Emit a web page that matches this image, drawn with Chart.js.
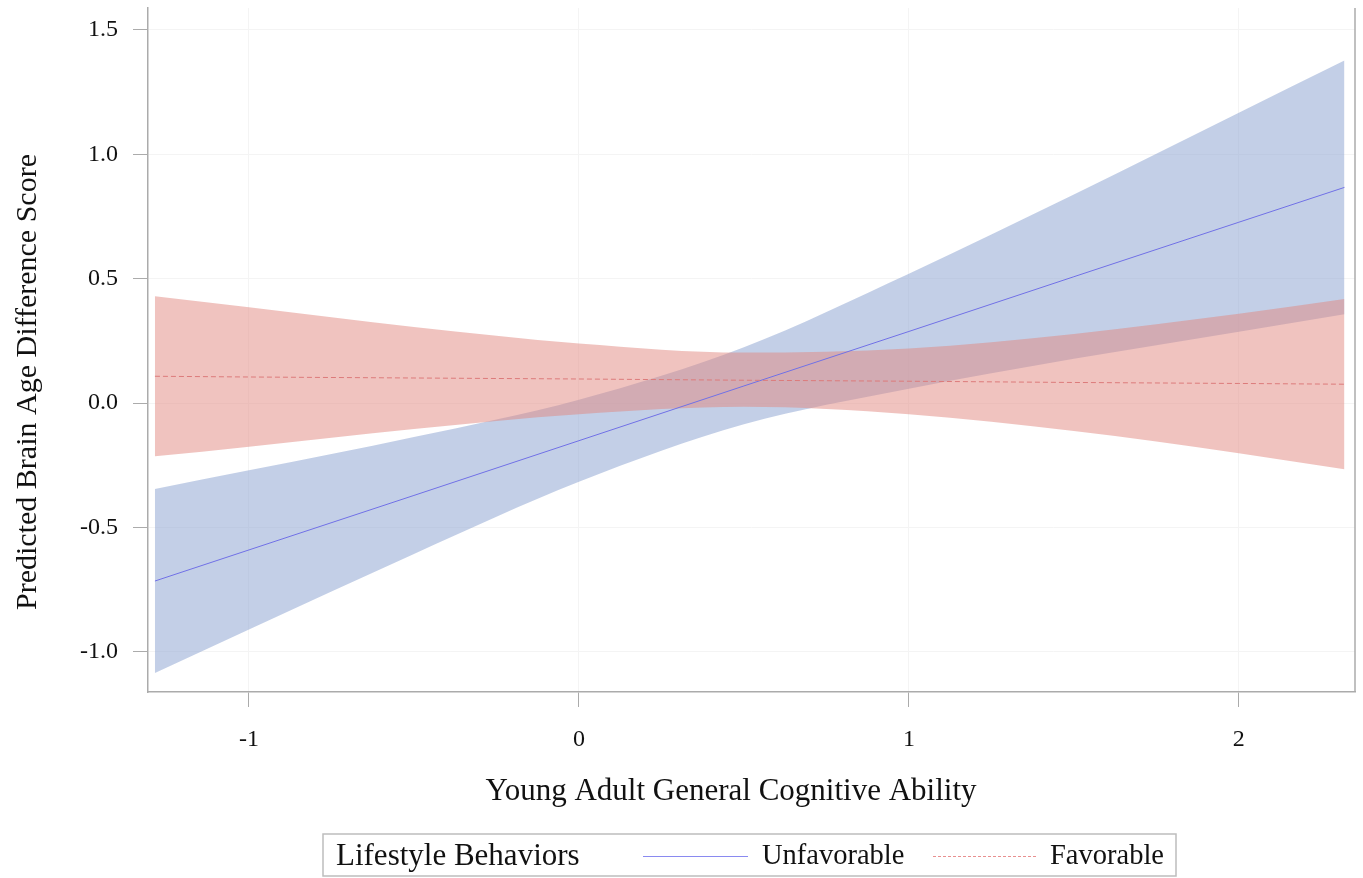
<!DOCTYPE html>
<html>
<head>
<meta charset="utf-8">
<script src="https://cdn.jsdelivr.net/npm/chart.js@4.4.1/dist/chart.umd.min.js"></script>
<style>
  html, body { margin: 0; padding: 0; background: #fff; }
  #wrap { width: 1363px; height: 878px; }
</style>
</head>
<body>
<div id="wrap"><canvas id="chart" width="1363" height="878"></canvas></div>
<script>
// valores
const xVals = [-1.285, -1, -0.5, 0, 0.5, 1, 1.5, 2, 2.32];

const unfavMean  = [-0.715, -0.590, -0.371, -0.151, 0.069, 0.288, 0.508, 0.727, 0.867];
const unfavUpper = [-0.345, -0.270, -0.136, 0.014, 0.225, 0.520, 0.838, 1.167, 1.377];
const unfavLower = [-1.085, -0.910, -0.606, -0.316, -0.085, 0.058, 0.178, 0.287, 0.357];

const favMean  = [0.108, 0.105, 0.101, 0.097, 0.092, 0.088, 0.083, 0.079, 0.076];
const favUpper = [0.430, 0.385, 0.306, 0.240, 0.203, 0.220, 0.278, 0.359, 0.418];
const favLower = [-0.214, -0.175, -0.104, -0.045, -0.015, -0.045, -0.112, -0.201, -0.266];

const xTicks = [-1, 0, 1, 2];
const yTicks = [-1.0, -0.5, 0.0, 0.5, 1.0, 1.5];

const serif = "'Liberation Serif', 'Times New Roman', serif";

function pts(ys) {
    return xVals.map(function (x, i) { return { x: x, y: ys[i] }; });
}

// títulos dos eixos, caixa da legenda e borda direita
const extras = {
    id: 'extras',
    afterDraw: function (chart) {
        const ctx = chart.ctx;
        const a = chart.chartArea;
        ctx.save();
        ctx.strokeStyle = '#ababab';
        ctx.lineWidth = 1.5;
        ctx.beginPath();
        ctx.moveTo(a.right, a.top);
        ctx.lineTo(a.right, a.bottom);
        ctx.stroke();

        ctx.fillStyle = '#111';
        ctx.textBaseline = 'middle';
        ctx.textAlign = 'center';
        ctx.font = '31px ' + serif;
        ctx.fillText('Young Adult General Cognitive Ability', 731, 792);

        ctx.save();
        ctx.translate(28, 382);
        ctx.rotate(-Math.PI / 2);
        ctx.font = '30px ' + serif;
        ctx.fillText('Predicted Brain Age Difference Score', 0, 0);
        ctx.restore();

        // legenda
        ctx.strokeStyle = '#bdbdbd';
        ctx.lineWidth = 1.5;
        ctx.strokeRect(323, 834, 853, 42);
        ctx.textAlign = 'left';
        ctx.font = '31px ' + serif;
        ctx.fillText('Lifestyle Behaviors', 336, 857);
        ctx.font = '28.5px ' + serif;
        ctx.fillText('Unfavorable', 762, 857);
        ctx.fillText('Favorable', 1050, 857);

        ctx.lineWidth = 1;
        ctx.strokeStyle = '#8a8af0';
        ctx.beginPath();
        ctx.moveTo(643, 856.5);
        ctx.lineTo(748, 856.5);
        ctx.stroke();

        ctx.strokeStyle = '#e89090';
        ctx.setLineDash([3, 2]);
        ctx.beginPath();
        ctx.moveTo(933, 856.5);
        ctx.lineTo(1038, 856.5);
        ctx.stroke();
        ctx.restore();
    }
};

const ctx = document.getElementById('chart').getContext('2d');
const chart = new Chart(ctx, {
    type: 'line',
    data: {
        datasets: [
            {
                label: 'Favorable',
                data: pts(favMean),
                borderColor: '#dc7a7a',
                borderWidth: 1,
                borderDash: [5, 3],
                pointRadius: 0,
                fill: false
            },
            {
                label: 'Unfavorable',
                data: pts(unfavMean),
                borderColor: '#7070e6',
                borderWidth: 1,
                pointRadius: 0,
                fill: false
            },
            {
                label: 'fav upper',
                data: pts(favUpper),
                borderWidth: 0,
                borderColor: 'rgba(0,0,0,0)',
                backgroundColor: 'rgba(225,135,127,0.5)',
                pointRadius: 0,
                cubicInterpolationMode: 'monotone',
                fill: '+1'
            },
            {
                label: 'fav lower',
                data: pts(favLower),
                borderWidth: 0,
                borderColor: 'rgba(0,0,0,0)',
                pointRadius: 0,
                cubicInterpolationMode: 'monotone',
                fill: false
            },
            {
                label: 'unfav upper',
                data: pts(unfavUpper),
                borderWidth: 0,
                borderColor: 'rgba(0,0,0,0)',
                backgroundColor: 'rgba(135,159,207,0.5)',
                pointRadius: 0,
                cubicInterpolationMode: 'monotone',
                fill: '+1'
            },
            {
                label: 'unfav lower',
                data: pts(unfavLower),
                borderWidth: 0,
                borderColor: 'rgba(0,0,0,0)',
                pointRadius: 0,
                cubicInterpolationMode: 'monotone',
                fill: false
            }
        ]
    },
    options: {
        responsive: false,
        animation: false,
        layout: { padding: { top: 8, right: 8, left: 0, bottom: 0 } },
        plugins: {
            legend: { display: false },
            tooltip: { enabled: false }
        },
        scales: {
            x: {
                type: 'linear',
                min: -1.306,
                max: 2.352,
                afterFit: function (s) {
                    s.height = 186;
                    s.paddingLeft = 0;
                    s.paddingRight = 0;
                },
                afterBuildTicks: function (s) {
                    s.ticks = xTicks.map(function (v) { return { value: v }; });
                },
                ticks: {
                    font: { family: serif, size: 24 },
                    color: '#111',
                    padding: 18,
                    callback: function (v) { return String(v); }
                },
                grid: {
                    color: '#f4f4f4',
                    tickColor: '#ababab',
                    tickLength: 15
                },
                border: { color: '#ababab', width: 1.5 }
            },
            y: {
                min: -1.161,
                max: 1.588,
                afterFit: function (s) {
                    s.width = 148;
                    s.paddingTop = 0;
                    s.paddingBottom = 0;
                },
                afterBuildTicks: function (s) {
                    s.ticks = yTicks.map(function (v) { return { value: v }; });
                },
                ticks: {
                    font: { family: serif, size: 24 },
                    color: '#111',
                    padding: 15,
                    callback: function (v) { return v.toFixed(1); }
                },
                grid: {
                    color: '#f4f4f4',
                    tickColor: '#ababab',
                    tickLength: 15
                },
                border: { color: '#ababab', width: 1.5 }
            }
        }
    },
    plugins: [extras]
});
</script>
</body>
</html>
